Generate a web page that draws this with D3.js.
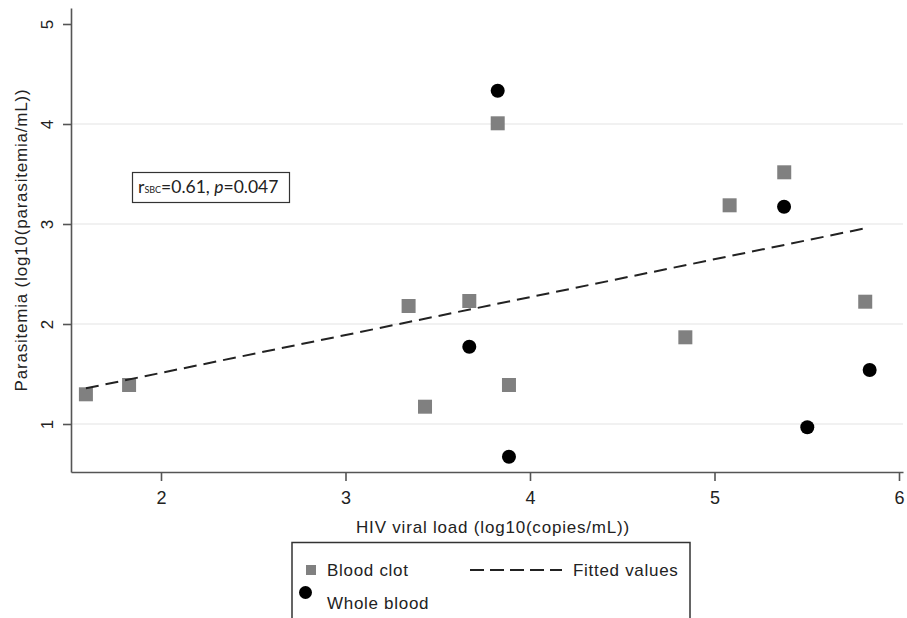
<!DOCTYPE html>
<html>
<head>
<meta charset="utf-8">
<script src="https://cdn.jsdelivr.net/npm/d3@7"></script>
<style>
  html, body { margin: 0; padding: 0; background: #fff; }
  #chart { width: 907px; height: 618px; }
  text { font-family: "Liberation Sans", Arial, sans-serif; fill: #222; }
</style>
</head>
<body>
<div id="chart"></div>
<script>
// blood clot (squares)
const clotX = [1.593, 1.827, 3.342, 3.431, 3.671, 3.825, 3.886, 4.842, 5.082, 5.378, 5.817];
const clotY = [1.297, 1.39, 2.18, 1.173, 2.23, 4.007, 1.39, 1.867, 3.187, 3.517, 2.223];
// whole blood (circles)
const wholeX = [3.671, 3.825, 3.886, 5.377, 5.503, 5.841];
const wholeY = [1.773, 4.333, 0.673, 3.173, 0.967, 1.54];
// fitted values, end points of the line
const fitX = [1.593, 5.817];
const fitY = [1.357, 2.957];

const xTicks = [2, 3, 4, 5, 6];
const yTicks = [1, 2, 3, 4, 5];
const gridTicks = [1, 2, 3, 4];

const xTitle = 'HIV viral load (log10(copies/mL))';
const yTitle = 'Parasitemia (log10(parasitemia/mL))';
const legendLabels = ['Blood clot', 'Whole blood', 'Fitted values'];

function draw (el) {
    const margin = { top: 8, right: 4, bottom: 146, left: 71 };
    const w = el.offsetWidth - margin.left - margin.right;
    const h = el.offsetHeight - margin.top - margin.bottom;

    const root = d3.select(el)
        .append('svg')
        .attr('width', w + margin.left + margin.right)
        .attr('height', h + margin.top + margin.bottom);

    const svg = root.append('g')
        .attr('transform', `translate(${margin.left}, ${margin.top})`);

    // scales
    const xScale = d3.scaleLinear()
        .domain([1.5122, 6.0217])
        .range([0, w]);
    const yScale = d3.scaleLinear()
        .domain([0.52, 5.16])
        .range([h, 0]);

    // gridlines
    svg.append('g')
        .selectAll('line')
        .data(gridTicks)
        .join('line')
        .attr('x1', 0)
        .attr('x2', w)
        .attr('y1', d => yScale(d))
        .attr('y2', d => yScale(d))
        .attr('stroke', '#ececec')
        .attr('stroke-width', 1.5);

    // axes
    const yAxis = d3.axisLeft(yScale).tickValues(yTicks).tickFormat(d3.format('d'))
        .tickSize(8).tickSizeOuter(0);
    const gy = svg.append('g').call(yAxis);
    gy.selectAll('text')
        .attr('transform', 'rotate(-90)')
        .attr('x', 0)
        .attr('y', -18)
        .attr('dy', 0)
        .attr('text-anchor', 'middle')
        .style('font-size', '17px');

    const xAxis = d3.axisBottom(xScale).tickValues(xTicks).tickFormat(d3.format('d'))
        .tickSize(9).tickSizeOuter(0);
    const gx = svg.append('g')
        .attr('transform', `translate(0, ${h})`)
        .call(xAxis);
    gx.selectAll('text')
        .attr('y', 32)
        .attr('dy', 0)
        .style('font-size', '18px');

    [gx, gy].forEach(g => {
        g.selectAll('path, line').attr('stroke', '#555').attr('stroke-width', 1.6);
        g.selectAll('text')
            .attr('fill', '#222')
            .style('font-family', '"Liberation Sans", Arial, sans-serif');
    });

    // axis titles
    root.append('text')
        .attr('x', 493)
        .attr('y', 533)
        .attr('text-anchor', 'middle')
        .style('font-size', '17px')
        .style('letter-spacing', '0.8px')
        .text(xTitle);

    root.append('text')
        .attr('transform', 'translate(27, 240) rotate(-90)')
        .attr('text-anchor', 'middle')
        .style('font-size', '17px')
        .style('letter-spacing', '0.8px')
        .text(yTitle);

    // points
    const clot = clotX.map((x, i) => ({ x: x, y: clotY[i] }));
    const whole = wholeX.map((x, i) => ({ x: x, y: wholeY[i] }));
    const sq = 14;

    svg.append('g')
        .selectAll('rect')
        .data(clot)
        .join('rect')
        .attr('x', d => xScale(d.x) - sq / 2)
        .attr('y', d => yScale(d.y) - sq / 2)
        .attr('width', sq)
        .attr('height', sq)
        .attr('fill', '#808080');

    svg.append('g')
        .selectAll('circle')
        .data(whole)
        .join('circle')
        .attr('cx', d => xScale(d.x))
        .attr('cy', d => yScale(d.y))
        .attr('r', 7)
        .attr('fill', '#000');

    // fitted line
    const line = d3.line()
        .x(d => xScale(d[0]))
        .y(d => yScale(d[1]));

    svg.append('path')
        .datum(fitX.map((x, i) => [x, fitY[i]]))
        .attr('d', line)
        .attr('fill', 'none')
        .attr('stroke', '#222')
        .attr('stroke-width', 2)
        .attr('stroke-dasharray', '13,7');

    // annotation box
    const note = root.append('g');
    note.append('rect')
        .attr('x', 132.5)
        .attr('y', 172.5)
        .attr('width', 157)
        .attr('height', 30)
        .attr('fill', '#fff')
        .attr('stroke', '#333')
        .attr('stroke-width', 1.2);
    const nt = note.append('text')
        .attr('x', 138)
        .attr('y', 193)
        .style('font-family', 'Lato, "Open Sans", sans-serif')
        .style('font-size', '17.5px');
    nt.append('tspan').text('r');
    nt.append('tspan').style('font-size', '9px').text('SBC');
    nt.append('tspan').text('=0.61, ');
    nt.append('tspan').style('font-style', 'italic').text('p');
    nt.append('tspan').text('=0.047');

    // legend
    const lg = root.append('g');
    lg.append('rect')
        .attr('x', 292)
        .attr('y', 542.5)
        .attr('width', 398)
        .attr('height', 120)
        .attr('fill', 'none')
        .attr('stroke', '#333')
        .attr('stroke-width', 1.5);
    lg.append('rect')
        .attr('x', 306)
        .attr('y', 565)
        .attr('width', 10)
        .attr('height', 10)
        .attr('fill', '#808080');
    lg.append('circle')
        .attr('cx', 305.5)
        .attr('cy', 592.5)
        .attr('r', 6.5)
        .attr('fill', '#000');
    lg.append('line')
        .attr('x1', 470)
        .attr('x2', 562)
        .attr('y1', 570)
        .attr('y2', 570)
        .attr('stroke', '#222')
        .attr('stroke-width', 2)
        .attr('stroke-dasharray', '14,6');
    const legendPos = [[327, 576], [327, 609], [573, 576]];
    lg.selectAll('text.lab')
        .data(legendLabels)
        .join('text')
        .attr('class', 'lab')
        .attr('x', (d, i) => legendPos[i][0])
        .attr('y', (d, i) => legendPos[i][1])
        .style('font-size', '17px')
        .style('letter-spacing', '0.7px')
        .text(d => d);
}

draw(document.getElementById('chart'));
</script>
</body>
</html>
